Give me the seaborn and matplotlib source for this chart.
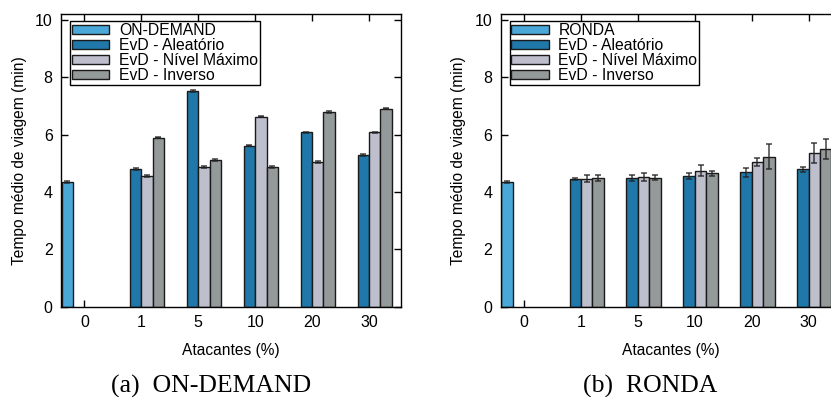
import numpy as np
import pandas as pd
import seaborn as sns
import matplotlib.pyplot as plt

# attacker percentages (x categories)
atacantes = ["0", "1", "5", "10", "20", "30"]

series_a = ["ON-DEMAND", "EvD - Aleatório", "EvD - Nível Máximo", "EvD - Inverso"]
series_b = ["RONDA", "EvD - Aleatório", "EvD - Nível Máximo", "EvD - Inverso"]

# (a) ON-DEMAND  -- None where the series has no bar
a_base = [4.35, None, None, None, None, None]
a_aleat = [None, 4.80, 7.53, 5.62, 6.08, 5.28]
a_nivel = [None, 4.57, 4.87, 6.63, 5.05, 6.08]
a_inv = [None, 5.90, 5.11, 4.87, 6.78, 6.91]
a_base_err = [0.03, None, None, None, None, None]
a_aleat_err = [None, 0.03, 0.03, 0.03, 0.03, 0.03]
a_nivel_err = [None, 0.03, 0.03, 0.03, 0.03, 0.03]
a_inv_err = [None, 0.03, 0.03, 0.03, 0.03, 0.03]

# (b) RONDA
b_base = [4.35, None, None, None, None, None]
b_aleat = [None, 4.45, 4.48, 4.55, 4.69, 4.79]
b_nivel = [None, 4.47, 4.53, 4.74, 5.04, 5.37]
b_inv = [None, 4.48, 4.50, 4.65, 5.23, 5.49]
b_base_err = [0.03, None, None, None, None, None]
b_aleat_err = [None, 0.03, 0.10, 0.10, 0.15, 0.08]
b_nivel_err = [None, 0.13, 0.13, 0.19, 0.14, 0.35]
b_inv_err = [None, 0.10, 0.08, 0.09, 0.44, 0.35]

cores = ["#4aa8d8", "#1f78a9", "#bebfcc", "#949999"]

sns.set_style("ticks")
plt.rcParams['font.family'] = ['Liberation Sans', 'DejaVu Sans']
plt.rcParams['text.color'] = 'black'
plt.rcParams['axes.labelcolor'] = 'black'
plt.rcParams['xtick.color'] = 'black'
plt.rcParams['ytick.color'] = 'black'


def make_df(names, vals):
    rows = []
    for name, serie in zip(names, vals):
        for cat, v in zip(atacantes, serie):
            if v is not None:
                rows.append({"Atacantes": cat, "Tempo": v, "Serie": name})
    return pd.DataFrame(rows)


def painel(ax, names, vals, errs):
    df = make_df(names, vals)
    sns.barplot(data=df, x="Atacantes", y="Tempo", hue="Serie",
                order=atacantes, hue_order=names, palette=cores,
                errorbar=None, width=0.8, gap=0, edgecolor="#1a1a1a",
                linewidth=1.0, saturation=1, ax=ax)
    # error bars placed on the drawn bars
    xs, ys, es = [], [], []
    for p in ax.patches:
        if p.get_height() == 0 or p.get_width() == 0:
            continue
        xc = p.get_x() + p.get_width() / 2
        ci = int(round(xc))
        hi = int(round((xc - ci + 0.3) / 0.2))
        if 0 <= ci < len(atacantes) and 0 <= hi < 4 and vals[hi][ci] is not None:
            xs.append(xc)
            ys.append(vals[hi][ci])
            es.append(errs[hi][ci])
    ax.errorbar(xs, ys, yerr=es, fmt='none', ecolor='#222222', elinewidth=1.1,
                capsize=2.5, capthick=1.1, alpha=0.85, zorder=5)

    ax.set_xlim(-0.41, 5.56)
    ax.set_ylim(0, 10.2)
    ax.set_yticks([0, 2, 4, 6, 8, 10])
    ax.set_xlabel("Atacantes (%)", fontsize=11.2, labelpad=9)
    ax.set_ylabel("Tempo médio de viagem (min)", fontsize=11.2, labelpad=6)
    ax.tick_params(direction='in', top=True, right=True, length=5, width=1,
                   labelsize=11.5, pad=6, color='black')
    for s in ax.spines.values():
        s.set_visible(True)
        s.set_linewidth(1.0)
        s.set_color('black')
    leg = ax.legend(loc='upper left', bbox_to_anchor=(0.026, 0.977),
                    borderaxespad=0, fontsize=11.3, frameon=True,
                    fancybox=False, edgecolor='black', framealpha=1,
                    borderpad=0.12, labelspacing=0.0, handlelength=2.4,
                    handleheight=0.55, handletextpad=0.6)
    leg.get_frame().set_linewidth(1.0)


fig = plt.figure(figsize=(8.31, 3.97), dpi=100)
ax1 = fig.add_axes([0.0734, 0.2275, 0.409, 0.7365])
ax2 = fig.add_axes([0.6025, 0.2275, 0.409, 0.7365])

painel(ax1, series_a, [a_base, a_aleat, a_nivel, a_inv],
       [a_base_err, a_aleat_err, a_nivel_err, a_inv_err])
painel(ax2, series_b, [b_base, b_aleat, b_nivel, b_inv],
       [b_base_err, b_aleat_err, b_nivel_err, b_inv_err])

fig.text(211 / 831, 1 - 386 / 397, "(a)  ON-DEMAND", ha='center', va='center',
         fontsize=18.5, family=['Liberation Serif', 'DejaVu Serif'])
fig.text(650 / 831, 1 - 386 / 397, "(b)  RONDA", ha='center', va='center',
         fontsize=18.5, family=['Liberation Serif', 'DejaVu Serif'])

plt.savefig('out.png', dpi=100)
